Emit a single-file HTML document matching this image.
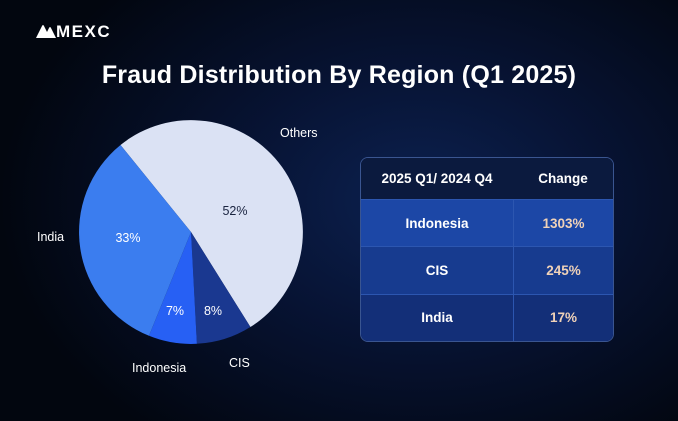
<!DOCTYPE html>
<html><head><meta charset="utf-8"><style>
html,body{margin:0;padding:0}
body{width:678px;height:421px;overflow:hidden;background:radial-gradient(ellipse 420px 300px at 420px 200px,#0c2150 0%,#071333 45%,#02060f 100%);font-family:"Liberation Sans",sans-serif;position:relative;color:#fff}
.t{position:absolute;white-space:nowrap}
table{position:absolute;left:360px;top:157px;width:254px;height:185px;border-collapse:separate;border-spacing:0;border:1px solid #3a5590;border-radius:8px;overflow:hidden;font-weight:bold;font-size:13.5px;text-align:center}
td{border-top:1px solid #2c56b0;}
td+td{border-left:1px solid #2c56b0}
tr.h td{background:#0b1a3e;height:39px;border-top:none}
tr.h td+td{border-left:none}
tr.r1 td{background:#1c47a6}
tr.r2 td{background:#173b8f}
tr.r3 td{background:#132f78}
.v{color:#f0d2b8}
</style></head><body>
<div class="t" style="left:36px;top:22px;font-size:17px;font-weight:bold;letter-spacing:1.5px">
<svg width="20" height="14" viewBox="0 0 20 14" style="vertical-align:-1px"><path d="M0 14 L6 2 Q7 0 8 2 L12 10 L10 14Z M8 14 L13 4 Q14 2 15 4 L20 14Z" fill="#fff"/></svg>MEXC</div>
<div class="t" style="left:0;width:678px;text-align:center;top:61px;font-size:25px;font-weight:bold;letter-spacing:0.2px">Fraud Distribution By Region (Q1 2025)</div>
<svg width="678" height="421" style="position:absolute;left:0;top:0">
<path d="M191 232 L120.5 145 A112 112 0 1 1 250.4 327 Z" fill="#dbe2f4"/>
<path d="M191 232 L250.4 327 A112 112 0 0 1 196.9 343.8 Z" fill="#1a3890"/>
<path d="M191 232 L196.9 343.8 A112 112 0 0 1 149 335.8 Z" fill="#2760f4"/>
<path d="M191 232 L149 335.8 A112 112 0 0 1 120.5 145 Z" fill="#3b7def"/>
<g font-family="Liberation Sans, sans-serif" font-size="12.5">
<text x="235" y="215" text-anchor="middle" fill="#1a2440">52%</text>
<text x="128" y="242" text-anchor="middle" fill="#fff">33%</text>
<text x="175" y="315" text-anchor="middle" fill="#fff">7%</text>
<text x="213" y="315" text-anchor="middle" fill="#fff">8%</text>
<text x="280" y="137" fill="#fff">Others</text>
<text x="37" y="241" fill="#fff">India</text>
<text x="132" y="372" fill="#fff">Indonesia</text>
<text x="229" y="367" fill="#fff">CIS</text>
</g>
</svg>
<table>
<tr class="h"><td style="width:150px">2025 Q1/ 2024 Q4</td><td>Change</td></tr>
<tr class="r1"><td>Indonesia</td><td class="v">1303%</td></tr>
<tr class="r2"><td>CIS</td><td class="v">245%</td></tr>
<tr class="r3"><td>India</td><td class="v">17%</td></tr>
</table>
</body></html>
